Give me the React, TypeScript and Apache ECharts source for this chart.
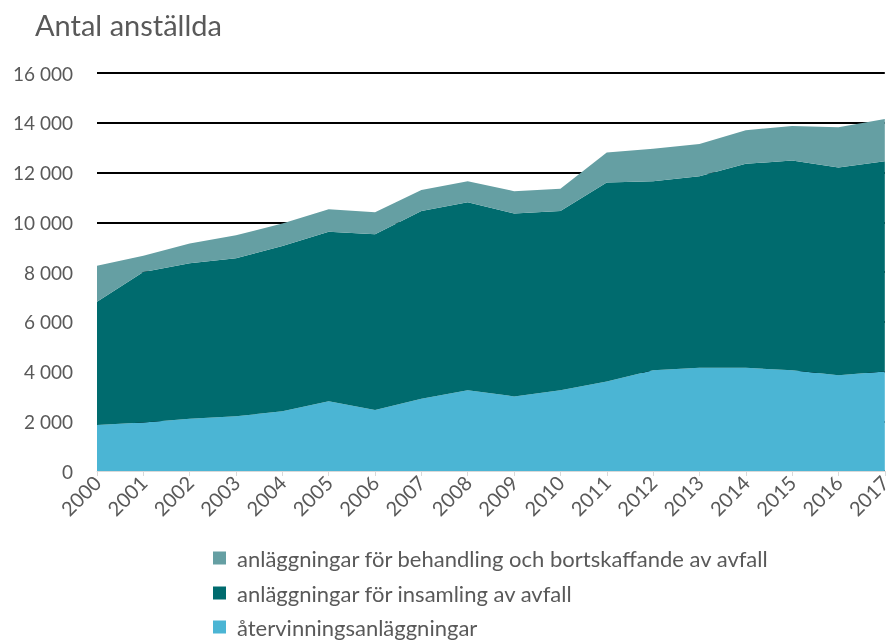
import React, { useEffect, useRef } from "react";
import * as echarts from "echarts";

const years = ["2000","2001","2002","2003","2004","2005","2006","2007","2008","2009","2010","2011","2012","2013","2014","2015","2016","2017"];
const atervinning = [1850,1950,2100,2200,2400,2800,2450,2900,3250,3000,3250,3600,4050,4150,4150,4050,3850,4000];
const insamling = [4950,6050,6250,6350,6650,6820,7070,7550,7550,7350,7200,8000,7600,7700,8200,8430,8350,8450];
const behandling = [1450,650,800,930,900,900,880,850,850,900,900,1200,1300,1300,1350,1390,1620,1700];

const seriesNames = [
  "anläggningar för behandling och bortskaffande av avfall",
  "anläggningar för insamling av avfall",
  "återvinningsanläggningar",
];
const colors = { behandling: "#659FA3", insamling: "#006B6E", atervinning: "#4BB5D4" };
const FONT = "Lato";
const TEXT = "#595959";

export default function App() {
  const ref = useRef<HTMLDivElement>(null);
  useEffect(() => {
    if (!ref.current) return;
    const chart = echarts.init(ref.current, null, { renderer: "svg", width: 894, height: 640 });
    const mk = (name: string, data: number[], color: string) => ({
      name,
      type: "line",
      stack: "total",
      data,
      symbol: "none",
      lineStyle: { width: 0 },
      areaStyle: { color, opacity: 1 },
      itemStyle: { color },
    });
    const legendCenters = [558, 593, 627];
    const legends = seriesNames.map((n, i) => ({
      orient: "vertical",
      left: 213,
      top: legendCenters[i] - 12,
      padding: 0,
      itemWidth: 13,
      itemHeight: 13,
      icon: "rect",
      textStyle: { fontSize: 22, color: TEXT, fontFamily: FONT, padding: [0, 0, 0, 6], lineHeight: 24 },
      data: [n],
    }));
    chart.setOption({
      animation: false,
      textStyle: { fontFamily: FONT },
      title: {
        text: "Antal anställda",
        left: 30,
        top: 5,
        textStyle: { fontFamily: FONT, fontSize: 29, fontWeight: "normal", color: TEXT },
      },
      grid: { left: 97, width: 795, top: 73, height: 398, containLabel: false },
      xAxis: {
        type: "category",
        data: years,
        boundaryGap: false,
        axisLine: { lineStyle: { color: "#D9D9D9", width: 1 } },
        axisTick: { show: true, length: 5, lineStyle: { color: "#D9D9D9" } },
        axisLabel: { rotate: 45, fontSize: 20, color: TEXT, fontFamily: FONT, margin: 8 },
        splitLine: { show: false },
      },
      yAxis: {
        type: "value",
        min: 0,
        max: 16000,
        interval: 2000,
        axisLine: { show: false },
        axisTick: { show: false },
        axisLabel: {
          fontSize: 19,
          color: TEXT,
          fontFamily: FONT,
          margin: 24,
          formatter: (v: number) => String(v).replace(/\B(?=(\d{3})+(?!\d))/g, " "),
        },
        splitLine: { lineStyle: { color: "#000000", width: 2 } },
      },
      legend: legends,
      series: [
        mk(seriesNames[2], atervinning, colors.atervinning),
        mk(seriesNames[1], insamling, colors.insamling),
        mk(seriesNames[0], behandling, colors.behandling),
      ],
    });
    return () => chart.dispose();
  }, []);
  return <div ref={ref} style={{ position: "fixed", left: 0, top: 0, width: 894, height: 640 }} />;
}
